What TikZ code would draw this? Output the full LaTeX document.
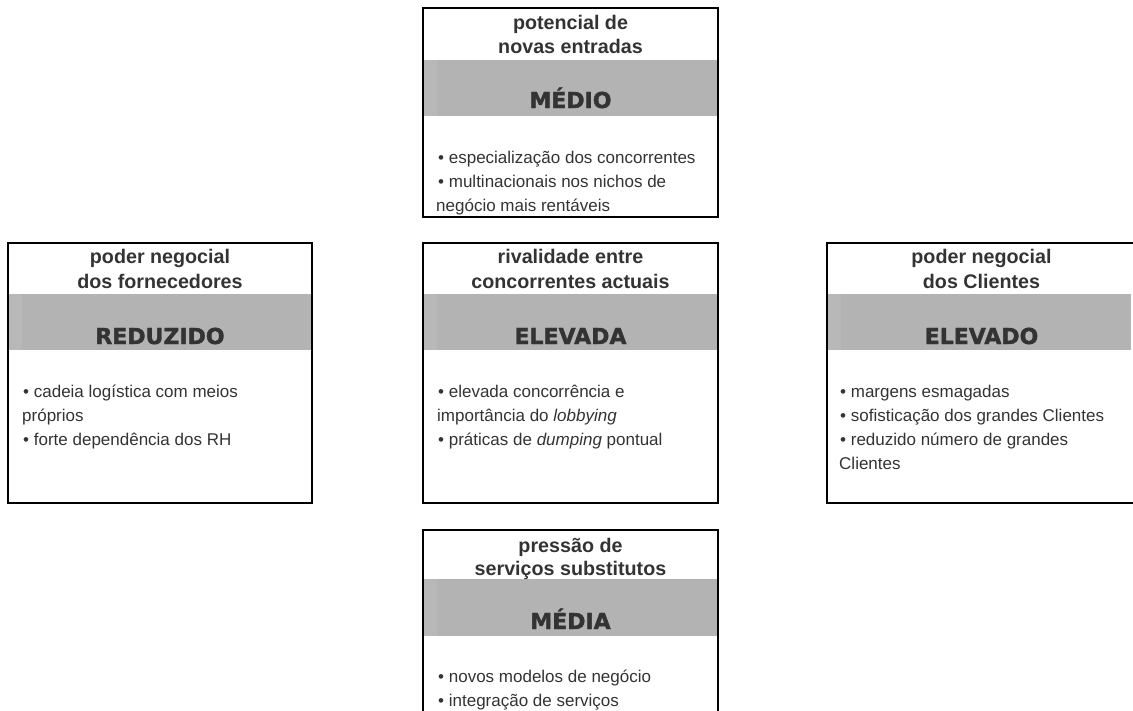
\documentclass[tikz,border=0pt]{standalone}
\usepackage{fontspec}
\setmainfont{Liberation Sans}
\newfontfamily\nivelfam[FakeBold=1.6]{DejaVu Sans Bold}
\usetikzlibrary{positioning}

\definecolor{txt}{RGB}{51,51,51}
\definecolor{faixa}{RGB}{179,179,179}
\definecolor{faixaclara}{RGB}{184,184,184}

\begin{document}
\begin{tikzpicture}[x=1pt,y=-1pt]
%estilos
	\tikzset{
	caixa/.style={draw=black, line width=2.5pt},
	titulo/.style={font=\fontsize{19.7}{24}\selectfont\bfseries, text=txt, anchor=base, inner sep=0},
	nivel/.style={font=\fontsize{22}{26}\selectfont\nivelfam, text=txt, anchor=base, inner sep=0},
	item/.style={font=\fontsize{17}{24}\selectfont, text=txt, anchor=base west, inner sep=0}}

	\useasboundingbox (0,0) rectangle (1133,710);

%cima
	%potencial de novas entradas
	\fill[faixa] (423,60) rectangle (718,116);
	\fill[faixaclara] (423,60) rectangle (437,116);
	\draw[caixa] (423,8) rectangle (718,217);
	\node[titulo] (ent-t1) at (570.5,29) {potencial de};
	\node[titulo] (ent-t2) at (570.5,53) {novas entradas};
	\node[nivel] (ent-n) at (570.5,108) {MÉDIO};
	\node[item] (ent-1) at (438,163) {• especialização dos concorrentes};
	\node[item] (ent-2) at (438,187) {• multinacionais nos nichos de};
	\node[item] (ent-3) at (436,211) {negócio mais rentáveis};

%meio
	%poder negocial dos fornecedores
	\fill[faixa] (8,294) rectangle (312,350);
	\fill[faixaclara] (8,294) rectangle (22,350);
	\draw[caixa] (8,243) rectangle (312,503);
	\node[titulo] (forn-t1) at (160,263) {poder negocial};
	\node[titulo] (forn-t2) at (160,288) {dos fornecedores};
	\node[nivel] (forn-n) at (160,344) {REDUZIDO};
	\node[item] (forn-1) at (23,397) {• cadeia logística com meios};
	\node[item] (forn-2) at (22,421) {próprios};
	\node[item] (forn-3) at (23,445) {• forte dependência dos RH};

	%rivalidade entre concorrentes actuais
	\fill[faixa] (423,294) rectangle (718,350);
	\fill[faixaclara] (423,294) rectangle (437,350);
	\draw[caixa] (423,243) rectangle (718,503);
	\node[titulo] (riv-t1) at (570.5,263) {rivalidade entre};
	\node[titulo] (riv-t2) at (570.5,288) {concorrentes actuais};
	\node[nivel] (riv-n) at (570.5,344) {ELEVADA};
	\node[item] (riv-1) at (438,397) {• elevada concorrência e};
	\node[item] (riv-2) at (437,421) {importância do \textit{lobbying}};
	\node[item] (riv-3) at (438,445) {• práticas de \textit{dumping} pontual};

	%poder negocial dos Clientes
	\fill[faixa] (827,294) rectangle (1131,350);
	\fill[faixaclara] (827,294) rectangle (841,350);
	\draw[caixa] (827,243) rectangle (1136,503);
	\node[titulo] (cli-t1) at (981.5,263) {poder negocial};
	\node[titulo] (cli-t2) at (981.5,288) {dos Clientes};
	\node[nivel] (cli-n) at (981.5,344) {ELEVADO};
	\node[item] (cli-1) at (840,397) {• margens esmagadas};
	\node[item] (cli-2) at (840,421) {• sofisticação dos grandes Clientes};
	\node[item] (cli-3) at (840,445) {• reduzido número de grandes};
	\node[item] (cli-4) at (839,469) {Clientes};

%baixo
	%pressao de servicos substitutos
	\fill[faixa] (423,579) rectangle (718,636);
	\fill[faixaclara] (423,579) rectangle (437,636);
	\draw[caixa] (423,530) rectangle (718,740);
	\node[titulo] (sub-t1) at (570.5,552) {pressão de};
	\node[titulo] (sub-t2) at (570.5,575) {serviços substitutos};
	\node[nivel] (sub-n) at (570.5,629) {MÉDIA};
	\node[item] (sub-1) at (438,682) {• novos modelos de negócio};
	\node[item] (sub-2) at (438,706) {• integração de serviços};

\end{tikzpicture}
\end{document}
